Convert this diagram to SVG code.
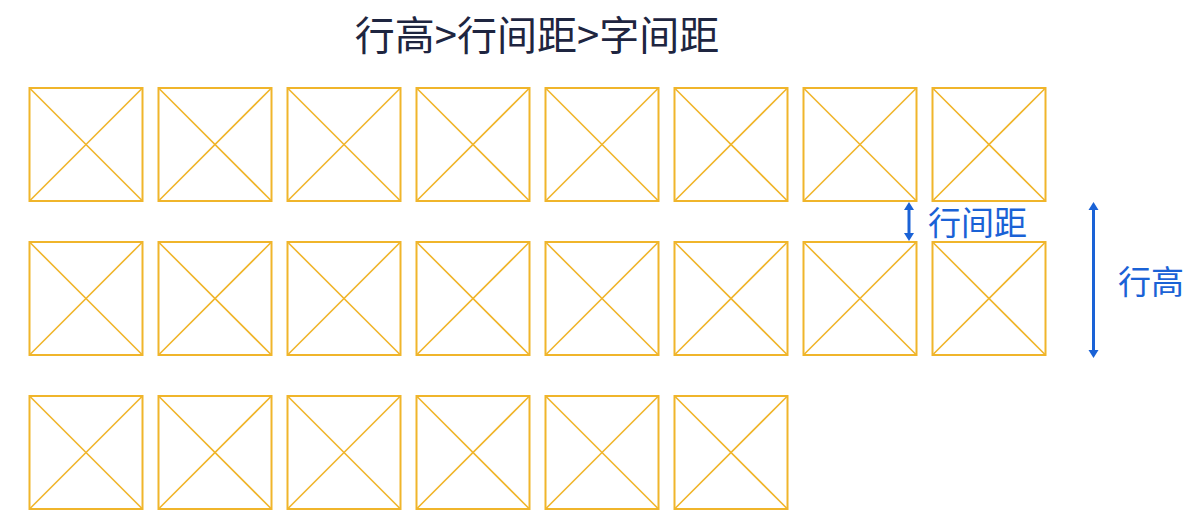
<svg xmlns="http://www.w3.org/2000/svg" xmlns:xlink="http://www.w3.org/1999/xlink" width="1200" height="529" viewBox="0 0 1200 529">
<style>
.frame{fill:none;stroke:#f0b52b;stroke-width:2}
.diag{fill:none;stroke:#f0b52b;stroke-width:1.6}
.title{font-family:"Noto Sans CJK SC","Noto Sans",sans-serif;font-size:40px;fill:#1e2540}
.label{font-family:"Noto Sans CJK SC","Noto Sans",sans-serif;font-size:33px;fill:#1a62d6}
.dim{stroke:#1a62d6;stroke-width:3;fill:none}
.head{fill:#1a62d6}
</style>
<defs>
<g id="cell">
<rect class="frame" x="0" y="0" width="113" height="113"/>
<path class="diag" d="M0 0L113 113M113 0L0 113"/>
</g>
</defs>
<rect width="1200" height="529" fill="#ffffff"/>
<text class="title" x="537" y="50" text-anchor="middle">行高&gt;行间距&gt;字间距</text>
<g id="row1">
<g id="r1c1" transform="translate(29.5,88)"><use href="#cell"/></g>
<g id="r1c2" transform="translate(158.5,88)"><use href="#cell"/></g>
<g id="r1c3" transform="translate(287.5,88)"><use href="#cell"/></g>
<g id="r1c4" transform="translate(416.5,88)"><use href="#cell"/></g>
<g id="r1c5" transform="translate(545.5,88)"><use href="#cell"/></g>
<g id="r1c6" transform="translate(674.5,88)"><use href="#cell"/></g>
<g id="r1c7" transform="translate(803.5,88)"><use href="#cell"/></g>
<g id="r1c8" transform="translate(932.5,88)"><use href="#cell"/></g>
</g>
<g id="row2">
<g id="r2c1" transform="translate(29.5,242)"><use href="#cell"/></g>
<g id="r2c2" transform="translate(158.5,242)"><use href="#cell"/></g>
<g id="r2c3" transform="translate(287.5,242)"><use href="#cell"/></g>
<g id="r2c4" transform="translate(416.5,242)"><use href="#cell"/></g>
<g id="r2c5" transform="translate(545.5,242)"><use href="#cell"/></g>
<g id="r2c6" transform="translate(674.5,242)"><use href="#cell"/></g>
<g id="r2c7" transform="translate(803.5,242)"><use href="#cell"/></g>
<g id="r2c8" transform="translate(932.5,242)"><use href="#cell"/></g>
</g>
<g id="row3">
<g id="r3c1" transform="translate(29.5,396)"><use href="#cell"/></g>
<g id="r3c2" transform="translate(158.5,396)"><use href="#cell"/></g>
<g id="r3c3" transform="translate(287.5,396)"><use href="#cell"/></g>
<g id="r3c4" transform="translate(416.5,396)"><use href="#cell"/></g>
<g id="r3c5" transform="translate(545.5,396)"><use href="#cell"/></g>
<g id="r3c6" transform="translate(674.5,396)"><use href="#cell"/></g>
</g>
<g id="connectors">
<g id="dim-spacing">
<line class="dim" x1="909" y1="208" x2="909" y2="235"/>
<path class="head" d="M909 202L904 210L914 210Z"/>
<path class="head" d="M909 241L904 233L914 233Z"/>
</g>
<g id="dim-height">
<line class="dim" x1="1093.5" y1="209" x2="1093.5" y2="351"/>
<path class="head" d="M1093.5 202L1088.5 210L1098.5 210Z"/>
<path class="head" d="M1093.5 358L1088.5 350L1098.5 350Z"/>
</g>
</g>
<g id="label-spacing"><text class="label" x="928" y="235">行间距</text></g>
<g id="label-height"><text class="label" x="1118" y="294">行高</text></g>
</svg>
